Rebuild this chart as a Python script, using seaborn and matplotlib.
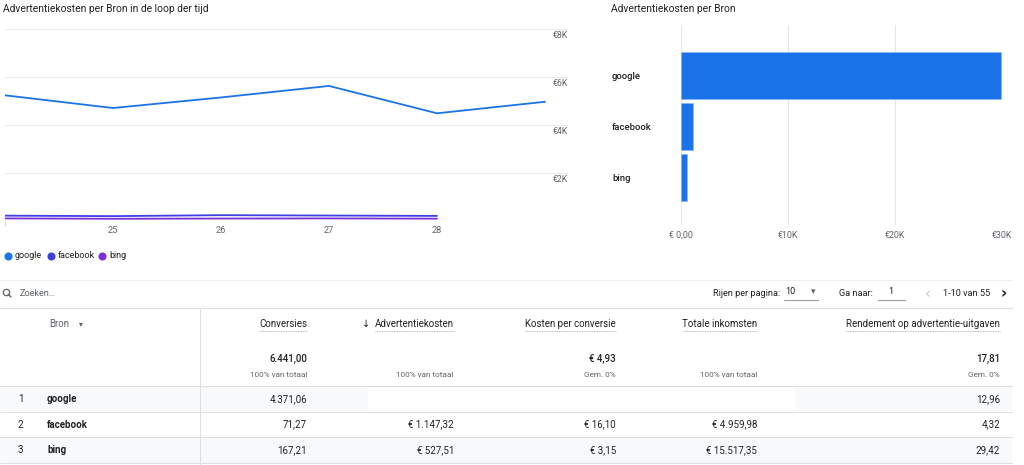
import matplotlib
matplotlib.use("Agg")
import matplotlib.pyplot as plt
import matplotlib.transforms as mtrans
import seaborn as sns
import pandas as pd
from matplotlib.lines import Line2D
from matplotlib.patches import Rectangle

# ---------------- data ----------------
days = [24, 25, 26, 27, 28, 29]
google_daily = [5250, 4720, 5160, 5640, 4500, 4980]
facebook_daily = [235, 215, 255, 240, 225]
bing_daily = [120, 105, 115, 120, 110]
series_names = ["google", "facebook", "bing"]
series_colors = ["#1a73e8", "#3d3fe4", "#7b2fd6"]
line_ticks = [0, 2000, 4000, 6000, 8000]
line_tick_labels = ["", "€2K", "€4K", "€6K", "€8K"]
xticks = [25, 26, 27, 28]

bar_sources = ["google", "facebook", "bing"]
bar_costs = [29950, 1147.32, 527.51]
bar_ticks = [0, 10000, 20000, 30000]
bar_tick_labels = ["€ 0,00", "€10K", "€20K", "€30K"]

table_rank = ["1", "2", "3"]
table_source = ["google", "facebook", "bing"]
table_conv = ["4.371,06", "71,27", "167,21"]
table_cost = ["", "€ 1.147,32", "€ 527,51"]
table_cpc = ["", "€ 16,10", "€ 3,15"]
table_income = ["", "€ 4.959,98", "€ 15.517,35"]
table_roas = ["12,96", "4,32", "29,42"]
col_headers = ["Conversies", "Advertentiekosten", "Kosten per conversie",
               "Totale inkomsten", "Rendement op advertentie-uitgaven"]
totals_main = ["6.441,00", "", "€ 4,93", "", "17,81"]
totals_sub = ["100% van totaal", "100% van totaal", "Gem. 0%",
              "100% van totaal", "Gem. 0%"]

# ---------------- setup ----------------
sns.set_theme(style="white")
plt.rcParams["font.family"] = ["Roboto", "DejaVu Sans"]
W, H = 1024, 465
fig = plt.figure(figsize=(W / 100, H / 100), dpi=100)
fig.patch.set_facecolor("white")


def fx(x):
    return x / W


def fy(y):
    return 1 - y / H


def ax_rect(x0, y0, x1, y1):
    return [fx(x0), fy(y1), fx(x1) - fx(x0), fy(y0) - fy(y1)]


TXT = "#202124"
GRAY = "#5f6368"
LIGHT = "#e0e0e0"

# ---------------- line chart ----------------
rows = []
for d, v in zip(days, google_daily):
    rows.append({"day": d, "cost": v, "Bron": "google"})
for d, v in zip(days[:5], facebook_daily):
    rows.append({"day": d, "cost": v, "Bron": "facebook"})
for d, v in zip(days[:5], bing_daily):
    rows.append({"day": d, "cost": v, "Bron": "bing"})
df_line = pd.DataFrame(rows)

ax1 = fig.add_axes(ax_rect(5, 29.3, 568, 221.3))
sns.lineplot(data=df_line, x="day", y="cost", hue="Bron", hue_order=series_names,
             palette=series_colors, linewidth=1.3, legend=False, ax=ax1)
ax1.set_xlim(24, 29 + 23 / 108)
ax1.set_ylim(0, 8000)
ax1.set_yticks(line_ticks)
ax1.set_yticklabels(line_tick_labels)
ax1.yaxis.tick_right()
ax1.tick_params(axis="y", length=0, pad=0, labelsize=6.3, labelcolor=GRAY)
for lab in ax1.get_yticklabels():
    lab.set_horizontalalignment("right")
    lab.set_verticalalignment("top")
ax1.set_xticks(xticks)
ax1.set_xticklabels([str(t) for t in xticks])
ax1.tick_params(axis="x", length=0, pad=3.5, labelsize=6.6, labelcolor=GRAY)
ax1.grid(axis="y", color="#ececec", linewidth=0.8)
ax1.set_axisbelow(True)
for s in ax1.spines.values():
    s.set_visible(False)
ax1.set_xlabel("")
ax1.set_ylabel("")
ax1.set_facecolor("none")
off = mtrans.ScaledTranslation(0, -2 / 100, fig.dpi_scale_trans)
for lab in ax1.get_yticklabels():
    lab.set_transform(lab.get_transform() + off)
fig.add_artist(Line2D([fx(5), fx(5)], [fy(221), fy(226)], color="#dadce0",
                      linewidth=0.8, transform=fig.transFigure))

fig.text(fx(3), fy(9), "Advertentiekosten per Bron in de loop der tijd",
         fontsize=7.35, color=TXT, va="center", ha="left")

# legend
leg_x = [8, 51, 102]
for xx, name, col in zip(leg_x, series_names, series_colors):
    fig.add_artist(Line2D([fx(xx)], [fy(256)], marker="o", markersize=4.8,
                          color=col, linestyle="none", transform=fig.transFigure))
    fig.text(fx(xx + 7), fy(256), name, fontsize=6.5, color=TXT,
             va="center", ha="left")

# ---------------- bar chart ----------------
df_bar = pd.DataFrame({"Bron": bar_sources, "cost": bar_costs})
ax2 = fig.add_axes(ax_rect(681, 25, 1002, 225))
sns.barplot(data=df_bar, y="Bron", x="cost", color="#1a73e8", width=0.917,
            saturation=1, ax=ax2, edgecolor="#8ab4f8", linewidth=0.5)
ax2.set_xlim(0, 30000)
ax2.set_ylim(2.917, -0.985)
ax2.set_xticks(bar_ticks)
ax2.set_xticklabels(bar_tick_labels)
ax2.tick_params(axis="x", length=0, pad=4, labelsize=6.4, labelcolor=GRAY)
ax2.tick_params(axis="y", length=0, pad=(681 - 612) * 0.72, labelsize=6.8,
                labelcolor=TXT)
for lab in ax2.get_yticklabels():
    lab.set_horizontalalignment("left")
    lab.set_fontweight("medium")
ax2.grid(axis="x", color="#e6e6e6", linewidth=0.8)
ax2.set_axisbelow(True)
for s in ax2.spines.values():
    s.set_visible(False)
ax2.set_xlabel("")
ax2.set_ylabel("")
ax2.set_facecolor("none")
fig.text(fx(611), fy(9), "Advertentiekosten per Bron", fontsize=7.35, color=TXT,
         va="center", ha="left")


# ---------------- table ----------------
def hline(y, x0=0, x1=1012, color=LIGHT, lw=0.8, **kw):
    fig.add_artist(Line2D([fx(x0), fx(x1)], [fy(y), fy(y)], color=color,
                          linewidth=lw, transform=fig.transFigure, **kw))


row_tops = [386, 411.5, 437]
row_bots = [411.5, 437, 462.5]
row_bgs = ["#f8f9fa", "white", "#f8f9fa"]
for top, bot, bg in zip(row_tops, row_bots, row_bgs):
    fig.add_artist(Rectangle((fx(0), fy(bot)), fx(1012), fy(top) - fy(bot),
                             facecolor=bg, edgecolor="none",
                             transform=fig.transFigure, zorder=0))
fig.add_artist(Rectangle((fx(368), fy(410.5)), fx(795 - 368), fy(387) - fy(410.5),
                         facecolor="white", edgecolor="none",
                         transform=fig.transFigure, zorder=0.5))

hline(280, 0, 1012, color="#eeeeee")
hline(307.5)
for y in [386, 411.5, 437, 462.5]:
    hline(y)
fig.add_artist(Line2D([fx(200), fx(200)], [fy(307.5), fy(465)], color=LIGHT,
                      linewidth=0.8, transform=fig.transFigure))

# search icon (circle + handle)
fig.add_artist(Line2D([fx(6)], [fy(292)], marker="o", markersize=4.6,
                      markerfacecolor="none", markeredgecolor=GRAY,
                      markeredgewidth=0.9, linestyle="none",
                      transform=fig.transFigure))
fig.add_artist(Line2D([fx(8.2), fx(11)], [fy(294.2), fy(297)], color=GRAY,
                      linewidth=1.0, transform=fig.transFigure))
fig.text(fx(20), fy(294), "Zoeken…", fontsize=6.6, color=GRAY, va="center", ha="left")

# pagination
fig.text(fx(780), fy(293), "Rijen per pagina:", fontsize=6.6, color=TXT, va="center",
         ha="right")
fig.text(fx(785), fy(292), "10", fontsize=6.6, color=TXT, va="center", ha="left")
fig.text(fx(813), fy(292), "▾", fontsize=6.5, color=GRAY, va="center", ha="center",
         family=["DejaVu Sans"])
hline(300, 784, 818, color="#9aa0a6")
fig.text(fx(873), fy(293), "Ga naar:", fontsize=6.6, color=TXT, va="center", ha="right")
fig.text(fx(891), fy(292), "1", fontsize=6.6, color=TXT, va="center", ha="center")
hline(300, 878, 905, color="#9aa0a6")
fig.text(fx(928), fy(294), "‹", fontsize=10, color="#bdc1c6", va="center", ha="center",
         family=["DejaVu Sans"])
fig.text(fx(990), fy(294), "1-10 van 55", fontsize=6.6, color=TXT, va="center",
         ha="right")
fig.text(fx(1004), fy(294), "›", fontsize=11, color=TXT, va="center", ha="center",
         family=["DejaVu Sans"], fontweight="bold")

# header
fig.text(fx(49), fy(324), "Bron", fontsize=7.0, color=GRAY, va="center", ha="left")
fig.text(fx(81), fy(324), "▾", fontsize=5.5, color=GRAY, va="center", ha="center",
         family=["DejaVu Sans"])
col_right = [307, 454, 616, 757, 1000]
col_width = [48, 79, 91, 74, 154]
for xr, wd, name in zip(col_right, col_width, col_headers):
    fig.text(fx(xr), fy(324), name, fontsize=7.0, color=TXT, va="center", ha="right")
    fig.add_artist(Line2D([fx(xr - wd), fx(xr)], [fy(331), fy(331)], color="#9aa0a6",
                          linewidth=0.6, linestyle=(0, (1, 1)),
                          transform=fig.transFigure))
fig.text(fx(366), fy(324), "↓", fontsize=7.0, color=TXT, va="center", ha="center",
         family=["DejaVu Sans"])

for xr, m, s in zip(col_right, totals_main, totals_sub):
    if m:
        fig.text(fx(xr), fy(359), m, fontsize=7.0, color=TXT, va="center", ha="right",
                 fontweight="medium")
    fig.text(fx(xr), fy(375), s, fontsize=5.9, color=GRAY, va="center", ha="right")

row_centers = [399, 424.5, 450]
for i, yc in enumerate(row_centers):
    fig.text(fx(18), fy(yc), table_rank[i], fontsize=7.0, color=TXT, va="center",
             ha="left")
    fig.text(fx(47), fy(yc), table_source[i], fontsize=7.0, color=TXT, va="center",
             ha="left", fontweight="bold")
    vals = [table_conv[i], table_cost[i], table_cpc[i], table_income[i], table_roas[i]]
    for xr, v in zip(col_right, vals):
        if v:
            fig.text(fx(xr), fy(yc), v, fontsize=7.0, color=TXT, va="center", ha="right")

fig.savefig("out.png", dpi=100, facecolor="white")
